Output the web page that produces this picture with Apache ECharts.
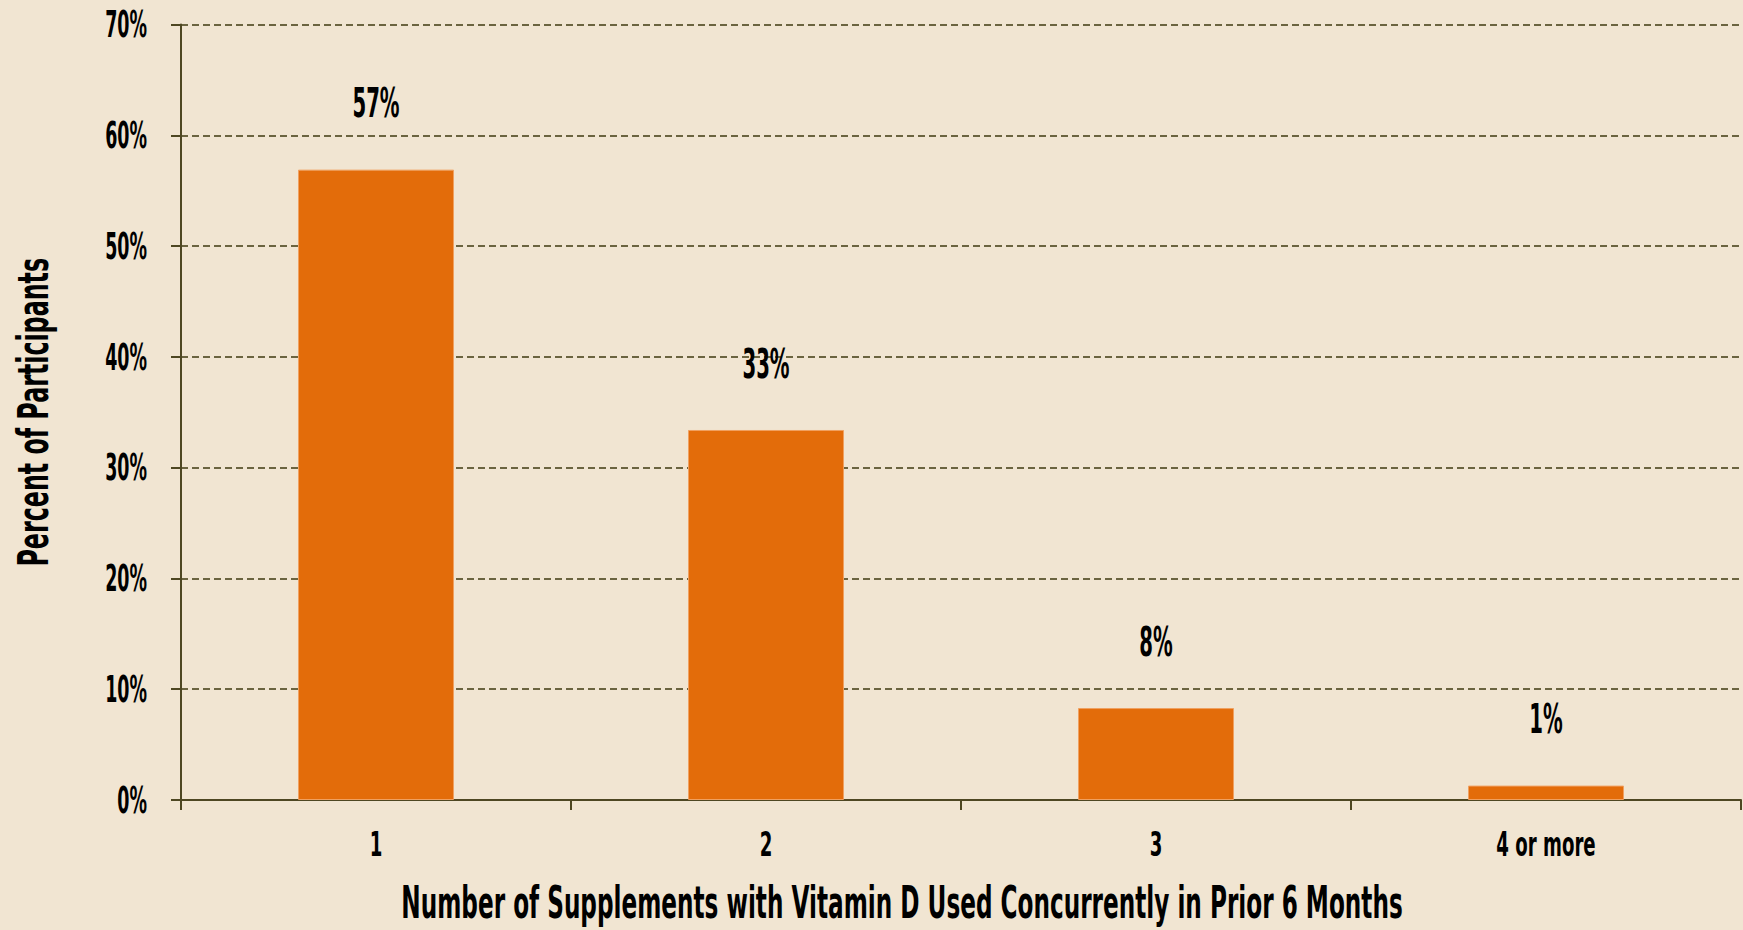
<!DOCTYPE html>
<html>
<head>
<meta charset="utf-8">
<script src="https://cdn.jsdelivr.net/npm/echarts@6/dist/echarts.min.js"></script>
<style>
html,body{margin:0;padding:0;background:#F1E5D2;}
#c{width:1743px;height:930px;}
</style>
</head>
<body>
<div id="c"></div>
<script>
const categories = ["1", "2", "3", "4 or more"];
const percents = [56.9, 33.4, 8.3, 1.3];
const yTicks = [0, 10, 20, 30, 40, 50, 60, 70];
const xTitle = "Number of Supplements with Vitamin D Used Concurrently in Prior 6 Months";
const yTitle = "Percent of Participants";

const FONT = '"DejaVu Sans", sans-serif';
// horizontal squeeze applied to text, keyed by font size (emulates a condensed typeface)
const SQUEEZE = {45: 0.515, 42: 0.566, 41: 0.48, 38: 0.46, 33: 0.55};

const chart = echarts.init(document.getElementById('c'), null, {renderer: 'svg'});
function squeeze() {
  document.querySelectorAll('#c svg text').forEach(t => {
    if (t.getAttribute('data-sq')) return;
    const fs = Math.round(parseFloat(getComputedStyle(t).fontSize));
    const k = SQUEEZE[fs];
    if (!k) return;
    const x = parseFloat(t.getAttribute('x') || '0') || 0;
    const y = parseFloat(t.getAttribute('y') || '0') || 0;
    const prev = t.getAttribute('transform') || '';
    t.setAttribute('transform', (prev + ' translate(' + x + ' ' + y + ') scale(' + k + ' 1) translate(' + (-x) + ' ' + (-y) + ')').trim());
    t.setAttribute('data-sq', '1');
  });
}
chart.on('finished', squeeze);
chart.setOption({
  backgroundColor: '#F1E5D2',
  animation: false,
  grid: {left: 181, right: 2, top: 24.5, bottom: 130, containLabel: false, outerBoundsMode: 'none'},
  xAxis: {
    type: 'category',
    data: categories,
    axisLine: {show: true, lineStyle: {color: '#4E4722', width: 2}},
    axisTick: {show: true, length: 10, lineStyle: {color: '#4E4722', width: 2}},
    axisLabel: {color: '#000', fontFamily: FONT, fontWeight: 'bold', fontSize: 33, margin: 28},
    name: xTitle,
    nameLocation: 'middle',
    nameGap: 80,
    nameMoveOverlap: false,
    nameTextStyle: {color: '#000', fontFamily: FONT, fontWeight: 'bold', fontSize: 45,
      padding: [0, 118, 0, 0]}
  },
  yAxis: {
    type: 'value',
    min: yTicks[0],
    max: yTicks[yTicks.length - 1],
    interval: 10,
    axisLine: {show: true, lineStyle: {color: '#4E4722', width: 2}},
    axisTick: {show: true, length: 10, lineStyle: {color: '#4E4722', width: 2}},
    axisLabel: {color: '#000', fontFamily: FONT, fontWeight: 'bold', fontSize: 38, margin: 34,
      formatter: v => v + '%'},
    splitLine: {show: true, lineStyle: {color: '#6B6440', width: 2, type: [7, 4]}},
    name: yTitle,
    nameLocation: 'middle',
    nameGap: 127,
    nameRotate: 90,
    nameMoveOverlap: false,
    nameTextStyle: {color: '#000', fontFamily: FONT, fontWeight: 'bold', fontSize: 42}
  },
  series: [{
    type: 'bar',
    data: percents,
    barWidth: '40%',
    itemStyle: {color: '#E36C0A', borderColor: '#F0A060', borderWidth: 1},
    label: {show: true, position: 'top', distance: 46, color: '#000', fontFamily: FONT,
      fontWeight: 'bold', fontSize: 41, formatter: p => Math.round(p.value) + '%'}
  }]
});
squeeze();
setTimeout(squeeze, 50);
</script>
</body>
</html>
